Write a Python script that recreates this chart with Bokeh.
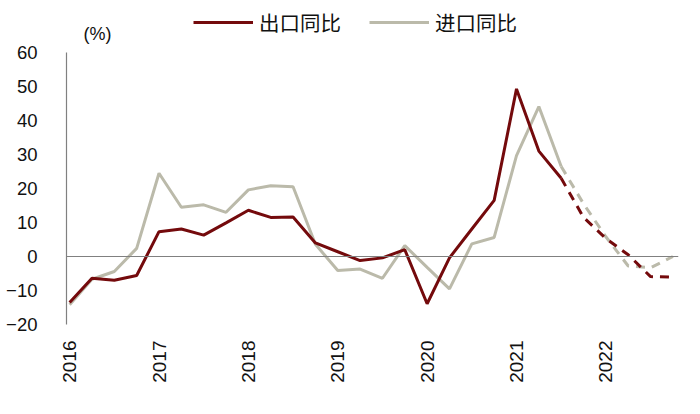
from bokeh.plotting import figure
from bokeh.models import Legend, LegendItem, Span, Label, FixedTicker
from bokeh.embed import file_html
from bokeh.resources import INLINE
import math

# ---- data (quarterly, 2016Q1 .. 2022Q4) ----
year_labels = ["2016", "2017", "2018", "2019", "2020", "2021", "2022"]
exports = [-13.5, -6.4, -7.0, -5.6, 7.3, 8.1, 6.3, 9.9, 13.6, 11.5, 11.6, 4.0,
           1.4, -1.2, -0.4, 2.0, -13.9, -0.4, 8.1, 16.5, 49.3, 31.0, 23.0,
           11.5, 5.3, 0.5, -5.9, -6.1]
imports = [-14.2, -6.7, -4.4, 2.4, 24.5, 14.5, 15.2, 13.0, 19.6, 20.8, 20.5, 3.6,
           -4.1, -3.7, -6.4, 3.2, -3.2, -9.5, 3.7, 5.6, 29.7, 44.1, 26.5,
           15.5, 5.8, -2.8, -3.3, 0.0]
n_actual = 23  # first 23 quarters are actual (solid), the rest forecast (dashed)
series_names = ["出口同比", "进口同比"]
y_ticks = [-20, -10, 0, 10, 20, 30, 40, 50, 60]

RED = "#740A0C"
GRAY = "#BBBAAA"
FONT = "Liberation Sans"
CJK = "Noto Sans CJK SC"

x = list(range(len(exports)))

p = figure(width=684, height=398, output_backend="svg", toolbar_location=None,
           x_range=(-0.14, 27.25), y_range=(-20, 75.3), title_location=None,
           min_border_left=66, min_border_right=6, min_border_bottom=74,
           min_border_top=0)
p.outline_line_color = None
p.xgrid.visible = False
p.ygrid.visible = False

# zero line
p.add_layout(Span(location=0, dimension="width", line_color="#808080", line_width=1.2))

# lines
p.line(x[n_actual - 1:], imports[n_actual - 1:], line_color=GRAY, line_width=3, line_dash="9 7")
r_im = p.line(x[:n_actual], imports[:n_actual], line_color=GRAY, line_width=3)
p.line(x[n_actual - 1:], exports[n_actual - 1:], line_color=RED, line_width=3, line_dash="9 7")
r_ex = p.line(x[:n_actual], exports[:n_actual], line_color=RED, line_width=3)

# axes
p.yaxis.ticker = FixedTicker(ticks=y_ticks)
p.yaxis.bounds = (y_ticks[0], y_ticks[-1])
p.yaxis.major_tick_line_color = None
p.yaxis.minor_tick_line_color = None
p.yaxis.axis_line_color = "#808080"
p.yaxis.axis_line_width = 1.2
p.yaxis.major_label_standoff = 23
p.yaxis.major_label_text_font = FONT
p.yaxis.major_label_text_font_size = "18.5px"
p.yaxis.major_label_text_color = "#111111"

tick_pos = [4 * i for i in range(len(year_labels))]
p.xaxis.ticker = FixedTicker(ticks=tick_pos)
p.xaxis.major_label_overrides = {t: lab for t, lab in zip(tick_pos, year_labels)}
p.xaxis.major_label_orientation = math.pi / 2
p.xaxis.axis_line_color = None
p.xaxis.major_tick_line_color = None
p.xaxis.minor_tick_line_color = None
p.xaxis.major_label_standoff = 10
p.xaxis.major_label_text_font = FONT
p.xaxis.major_label_text_font_size = "19px"
p.xaxis.major_label_text_color = "#111111"

# unit label
p.add_layout(Label(x=0.62, y=65.5, text="(%)", text_font=FONT, text_font_size="18px",
                   text_baseline="middle", text_align="left", text_color="#111111"))

legend = Legend(items=[LegendItem(label=series_names[0], renderers=[r_ex]),
                       LegendItem(label=series_names[1], renderers=[r_im])],
                orientation="horizontal", location=(127, 287),
                label_text_font=CJK, label_text_font_size="20.5px",
                label_text_color="#111111",
                glyph_width=60, glyph_height=20, label_height=20,
                label_standoff=6, spacing=28,
                padding=0, margin=0, border_line_color=None,
                background_fill_alpha=0)
p.add_layout(legend, "center")

open("out.html", "w").write(file_html(p, INLINE))
